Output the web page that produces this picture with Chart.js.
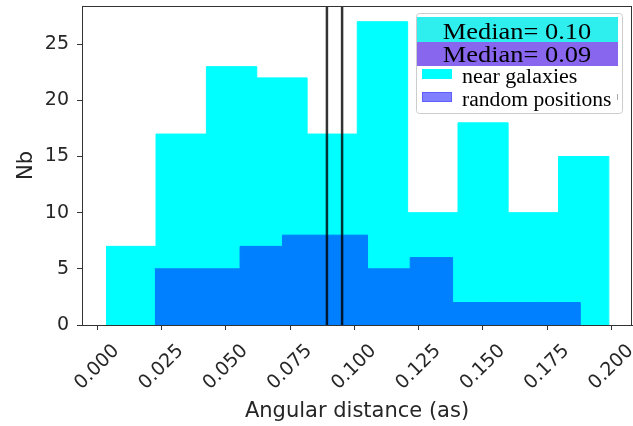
<!DOCTYPE html>
<html>
<head>
<meta charset="utf-8">
<script src="https://cdn.jsdelivr.net/npm/chart.js@4/dist/chart.umd.min.js"></script>
<style>
  html, body { margin: 0; padding: 0; background: #fff; }
  #wrap { width: 633px; height: 426px; }
</style>
</head>
<body>
<div id="wrap"><canvas id="myChart" width="633" height="426"></canvas></div>
<script>
// histogram bins (angular distance, as) and counts
var edgesNear = [0.0033, 0.0228, 0.0424, 0.0620, 0.0816, 0.1011, 0.1207, 0.1403, 0.1598, 0.1794, 0.1990];
var countsNear = [7, 17, 23, 22, 17, 27, 10, 18, 10, 15];

var edgesRandom = [0.0223, 0.0389, 0.0555, 0.0720, 0.0886, 0.1051, 0.1217, 0.1382, 0.1548, 0.1713, 0.1879];
var countsRandom = [5, 5, 7, 8, 8, 5, 6, 2, 2, 2];

// medians (near galaxies, random positions)
var medians = [0.0952, 0.0893];
var medianLabels = ["Median= 0.10", "Median= 0.09"];
var medianColors = ["#2EEEEE", "#8866EE"];

var seriesLabels = ["near galaxies", "random positions"];
var xTicks = [0, 0.025, 0.05, 0.075, 0.1, 0.125, 0.15, 0.175, 0.2];
var yTicks = [0, 5, 10, 15, 20, 25];
var xMin = -0.006, xMax = 0.208;
var yMax = 28.4;

// step points: each edge carries the count of the bin to its right
function stepPoints(edges, counts) {
    return edges.map(function (e, i) {
        return {x: e, y: i < counts.length ? counts[i] : 0};
    });
}

function medianLine(m) {
    return {
        type: 'line',
        data: [{x: m, y: 0}, {x: m, y: yMax}],
        borderColor: 'rgba(0,0,0,0.8)',
        borderWidth: 2.5,
        pointRadius: 0,
        fill: false
    };
}

// text stretched a little wider, like the reference
function wideText(c, txt, x, y, sx) {
    c.save();
    c.translate(x, y);
    c.scale(sx, 1);
    c.fillText(txt, 0, 0);
    c.restore();
}

// frame on all four sides + legend box
var framePlugin = {
    id: 'frame',
    afterDatasetsDraw: function (chart) {
        var a = chart.chartArea, c = chart.ctx;
        c.save();
        c.strokeStyle = '#333';
        c.lineWidth = 1;
        c.strokeRect(a.left + 0.5, a.top + 0.5, a.right - a.left - 1, a.bottom - a.top);
        c.restore();
    },
    afterDraw: function (chart) {
        var c = chart.ctx;
        c.save();
        // box
        c.fillStyle = 'rgba(255,255,255,0.8)';
        c.strokeStyle = '#cccccc';
        c.lineWidth = 1;
        c.beginPath();
        c.roundRect(416.5, 13.5, 206, 100, 3);
        c.fill();
        c.stroke();
        // median rows
        c.font = '24px "Liberation Serif"';
        c.textAlign = 'center';
        c.textBaseline = 'alphabetic';
        c.fillStyle = medianColors[0];
        c.fillRect(417, 17, 201, 25);
        c.fillStyle = medianColors[1];
        c.fillRect(417, 42, 201, 24);
        c.fillStyle = '#000';
        wideText(c, medianLabels[0], 517, 39, 1.1);
        wideText(c, medianLabels[1], 517, 62, 1.1);
        // handles
        c.fillStyle = '#00FFFF';
        c.fillRect(422, 69, 30, 10);
        c.fillStyle = '#7F7FFF';
        c.fillRect(422, 92, 30, 10);
        c.strokeStyle = 'rgba(0,0,255,0.25)';
        c.strokeRect(422.5, 92.5, 29, 9);
        c.font = '20px "Liberation Serif"';
        c.textAlign = 'left';
        c.fillStyle = '#000';
        wideText(c, seriesLabels[0], 462, 83, 1.1);
        wideText(c, seriesLabels[1], 462, 106, 1.08);
        c.strokeStyle = '#aaa';
        c.beginPath();
        c.moveTo(617.5, 94);
        c.lineTo(617.5, 100);
        c.stroke();
        c.restore();
    }
};

var ctx = document.getElementById("myChart").getContext("2d");
var myChart = new Chart(ctx, {
    type: 'line',
    data: {
        datasets: [
            medianLine(medians[0]),
            medianLine(medians[1]),
            {
                // half-transparent blue over cyan
                label: seriesLabels[1],
                data: stepPoints(edgesRandom, countsRandom),
                stepped: true,
                fill: 'origin',
                backgroundColor: '#007FFF',
                borderColor: '#007FFF',
                borderWidth: 1,
                pointRadius: 0
            },
            {
                label: seriesLabels[0],
                data: stepPoints(edgesNear, countsNear),
                stepped: true,
                fill: 'origin',
                backgroundColor: '#00FFFF',
                borderColor: '#00FFFF',
                borderWidth: 1,
                pointRadius: 0
            }
        ]
    },
    options: {
        responsive: false,
        animation: false,
        layout: {padding: {top: 6, right: 1, left: 0, bottom: 0}},
        plugins: {
            legend: {display: false},
            tooltip: {enabled: false}
        },
        scales: {
            x: {
                type: 'linear',
                min: xMin,
                max: xMax,
                afterBuildTicks: function (s) {
                    s.ticks = xTicks.map(function (v) { return {value: v}; });
                },
                afterFit: function (s) {
                    s.height = 101;
                    s.paddingLeft = 0;
                    s.paddingRight = 0;
                },
                grid: {display: true, drawOnChartArea: false, drawTicks: true, tickLength: 5, tickColor: '#333'},
                border: {display: true, color: '#333', width: 1},
                ticks: {
                    minRotation: 45,
                    maxRotation: 45,
                    autoSkip: false,
                    padding: 10,
                    labelOffset: 19,
                    color: '#262626',
                    font: {family: 'DejaVu Sans', size: 19},
                    callback: function (v) { return v.toFixed(3); }
                },
                title: {
                    display: true,
                    text: 'Angular distance (as)',
                    color: '#262626',
                    font: {family: 'DejaVu Sans', size: 21},
                    padding: {top: 0, bottom: 2}
                }
            },
            y: {
                min: 0,
                max: yMax,
                afterBuildTicks: function (s) {
                    s.ticks = yTicks.map(function (v) { return {value: v}; });
                },
                afterFit: function (s) {
                    s.width = 82;
                    s.paddingTop = 0;
                    s.paddingBottom = 0;
                },
                grid: {display: true, drawOnChartArea: false, drawTicks: true, tickLength: 5, tickColor: '#333'},
                border: {display: true, color: '#333', width: 1},
                ticks: {
                    padding: 8,
                    color: '#262626',
                    font: {family: 'DejaVu Sans', size: 19}
                },
                title: {
                    display: true,
                    text: 'Nb',
                    color: '#262626',
                    font: {family: 'DejaVu Sans', size: 21},
                    padding: {top: 14, bottom: 0}
                }
            }
        }
    },
    plugins: [framePlugin]
});
</script>
</body>
</html>
